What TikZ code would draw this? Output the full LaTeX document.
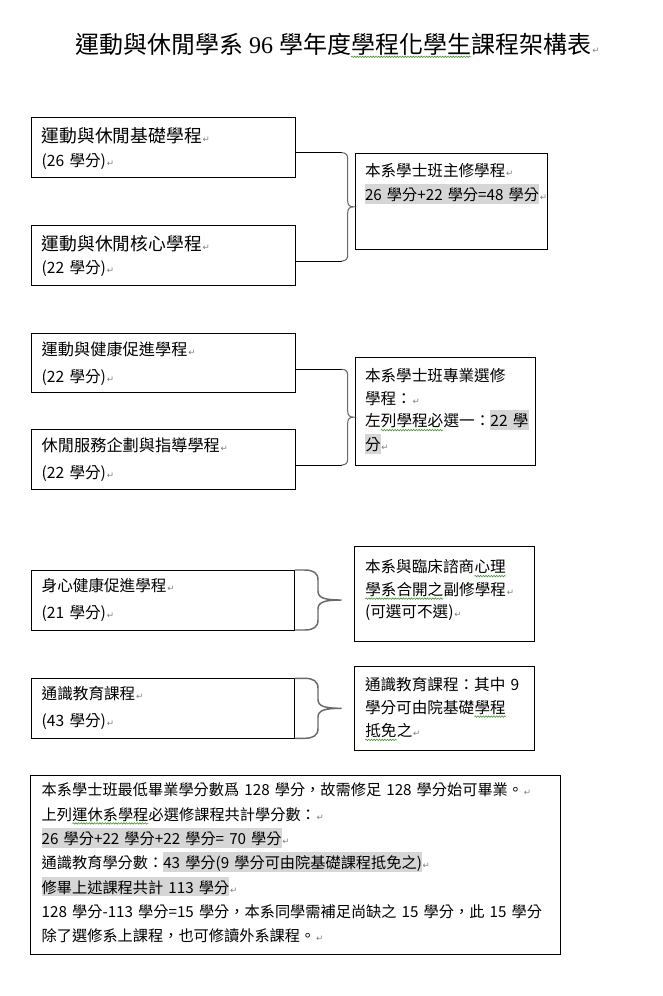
\documentclass[tikz,border=0pt]{standalone}
\usepackage{fontspec}
\setmainfont{Noto Sans CJK TC}[WordSpace=1.5]
\newfontfamily\arrowfont{DejaVu Sans}
\newfontfamily\serifdig{Liberation Serif}
\usetikzlibrary{fit,decorations.pathmorphing}
\definecolor{hlgray}{RGB}{214,214,214}
\definecolor{markgray}{RGB}{128,128,128}
\definecolor{bracegray}{RGB}{105,105,105}
\definecolor{wavegreen}{RGB}{70,150,50}
\newcommand\fntbody{\fontsize{11.7pt}{14pt}\selectfont}
\newcommand\fntsmall{\fontsize{11.4pt}{14pt}\selectfont}
\newcommand\fntbig{\fontsize{13.35pt}{16pt}\selectfont}
\newcommand\fntmid{\fontsize{12.15pt}{15pt}\selectfont}
\newcommand\fnttitle{\fontsize{18pt}{22pt}\selectfont}
\newcommand\parmark{{\kern0.6pt\color{markgray}\arrowfont\fontsize{6.5pt}{6.5pt}\selectfont ↵}}
\newcommand\hlt[1]{{\setlength{\fboxsep}{0pt}\colorbox{hlgray}{\rule[-0.22em]{0pt}{1.3em}#1}}}
\newcommand\wavy[1]{\tikz[baseline=(w.base)]{\node[inner sep=0pt,outer sep=0pt,anchor=base west,draw=none,fill=none] (w) at (0,0) {#1};\draw[wavyline] ([yshift=-2.4pt]w.base west) -- ([yshift=-2.4pt]w.base east);}}
\newcommand\smallbrace[4]{%
 \pgfmathsetmacro\bmid{(#2+#3)/2}%
 \draw[bracel] (#1,#2) .. controls ({#1+4},#2) and ({#1+6},{#2+2}) .. ({#1+6},{#2+6}) -- ({#1+6},{\bmid-6}) .. controls ({#1+6},{\bmid-2}) and ({#4-4},\bmid) .. (#4,\bmid) .. controls ({#4-4},\bmid) and ({#1+6},{\bmid+2}) .. ({#1+6},{\bmid+6}) -- ({#1+6},{#3-6}) .. controls ({#1+6},{#3-2}) and ({#1+4},#3) .. (#1,#3);}
\newcommand\bigbrace[4]{%
 \pgfmathsetmacro\bmid{(#2+#3)/2}%
 \draw[bigbracel] (#1,#2) -- ({#1+10},#2) .. controls ({#1+19},#2) and ({#1+23.5},{#2+3}) .. ({#1+23.5},{#2+10}) -- ({#1+23.5},{\bmid-9}) .. controls ({#1+23.5},{\bmid-2}) and ({#1+30},\bmid) .. (#4,\bmid) .. controls ({#1+30},\bmid) and ({#1+23.5},{\bmid+2}) .. ({#1+23.5},{\bmid+9}) -- ({#1+23.5},{#3-10}) .. controls ({#1+23.5},{#3-3}) and ({#1+19},#3) .. ({#1+10},#3) -- (#1,#3);}

\begin{document}
\begin{tikzpicture}[x=0.75pt, y=-0.75pt,
  box/.style={draw, line width=0.75pt, inner sep=0pt, outer sep=0pt},
  txt/.style={anchor=base west, inner sep=0pt, outer sep=0pt},
  tbody/.style={txt, font=\fntbody},
  tsmall/.style={txt, font=\fntsmall},
  tbig/.style={txt, font=\fntbig},
  tmid/.style={txt, font=\fntmid},
  ttitle/.style={txt, font=\fnttitle},
  conn/.style={draw, line width=0.75pt},
  bracel/.style={draw=bracegray, line width=0.8pt},
  bigbracel/.style={draw=bracegray, line width=1.1pt},
  wavyline/.style={draw=wavegreen, line width=0.45pt, decorate, decoration={snake, amplitude=0.55pt, segment length=2pt}}]
\path[use as bounding box, fill=white] (0,0) rectangle (663,996);

% title
\node[ttitle] (title) at (75,53.6) {運動與休閒學系{\serifdig\ 96\ }學年度\wavy{學程化學生}課程架構表\parmark};

% boxes
\node[box, fit={(31.7,117.3) (295.5,177.3)}] (a1) {};
\node[box, fit={(31.7,225.7) (295.5,285.3)}] (a2) {};
\node[box, fit={(355.7,153.3) (547,249)}] (r1) {};
\node[box, fit={(31.7,333.3) (295.5,392.7)}] (a3) {};
\node[box, fit={(31.7,429.3) (295.5,489)}] (a4) {};
\node[box, fit={(355.7,357.3) (535.7,465.3)}] (r2) {};
\node[box, fit={(31.7,570) (294.5,630)}] (a5) {};
\node[box, fit={(354.3,546) (534.3,641.7)}] (r3) {};
\node[box, fit={(31.7,678.3) (294.5,738.3)}] (a6) {};
\node[box, fit={(354.3,666) (534.3,750.7)}] (r4) {};
\node[box, fit={(30.7,775) (560,954)}] (bot) {};

% texts group 1
\node[tbig] (a1l1) at (41.7,142.8) {運動與休閒基礎學程\parmark};
\node[tbody] (a1l2) at (41.7,166.6) {(26 學分)\parmark};
\node[tbig] (a2l1) at (41.7,250.1) {運動與休閒核心學程\parmark};
\node[tbody] (a2l2) at (41.7,273.2) {(22 學分)\parmark};
\node[tbody] (r1l1) at (365,176.2) {本系學士班主修學程\parmark};
\node[tsmall] (r1l2) at (365,200.9) {\hlt{26 學分+22 學分=48 學分}\parmark};

% texts group 2
\node[tmid] (a3l1) at (41.7,355.7) {運動與健康促進學程\parmark};
\node[tbody] (a3l2) at (41.7,382.4) {(22 學分)\parmark};
\node[tmid] (a4l1) at (41.7,451.7) {休閒服務企劃與指導學程\parmark};
\node[tbody] (a4l2) at (41.7,478.4) {(22 學分)\parmark};
\node[tbody] (r2l1) at (365,381.6) {本系學士班專業選修};
\node[tbody] (r2l2) at (365,404.9) {學程：\parmark};
\node[tbody] (r2l3) at (365,426.9) {左\wavy{列學程必}選一：\hlt{22 學}};
\node[tbody] (r2l4) at (365,450.9) {\hlt{分}\parmark};

% texts group 3
\node[tbody] (a5l1) at (41.7,591.4) {身心健康促進學程\parmark};
\node[tbody] (a5l2) at (41.7,618.4) {(21 學分)\parmark};
\node[tbody] (r3l1) at (365,572.9) {本系與臨床諮商\wavy{心理}};
\node[tbody] (r3l2) at (365,595.4) {\wavy{學系合開之}副修學程\parmark};
\node[tbody] (r3l3) at (365,617.4) {(可選可不選)\parmark};

% texts group 4
\node[tbody] (a6l1) at (41.7,699.7) {通識教育課程\parmark};
\node[tbody] (a6l2) at (41.7,726.7) {(43 學分)\parmark};
\node[tbody] (r4l1) at (365,690.9) {通識教育課程：其中 9};
\node[tbody] (r4l2) at (365,713.4) {學分可由院基礎\wavy{學程}};
\node[tbody] (r4l3) at (365,736.7) {\wavy{抵免}之\parmark};

% bottom box text
\node[tsmall] (b1) at (41.7,795.9) {本系學士班最低畢業學分數爲 128 學分，故需修足 128 學分始可畢業。\parmark};
\node[tsmall] (b2) at (41.7,820.2) {上列\wavy{運休系學程}必選修課程共計學分數：\parmark};
\node[tsmall] (b3) at (41.7,844.5) {\hlt{26 學分+22 學分+22 學分= 70 學分}\parmark};
\node[tsmall] (b4) at (41.7,868.8) {通識教育學分數：\hlt{43 學分(9 學分可由院基礎課程抵免之)}\parmark};
\node[tsmall] (b5) at (41.7,893.1) {\hlt{修畢上述課程共計 113 學分}\parmark};
\node[tsmall] (b6) at (41.7,917.4) {128 學分-113 學分=15 學分，本系同學需補足尚缺之 15 學分，此 15 學分};
\node[tsmall] (b7) at (41.7,941.7) {除了選修系上課程，也可修讀外系課程。\parmark};

% connectors group 1
\coordinate (j1t) at (341.7,152.7);
\coordinate (j1b) at (341.7,261);
\draw[conn] (a1.east |- j1t) -- (j1t);
\draw[conn] (a2.east |- j1b) -- (j1b);
\smallbrace{341.7}{152.7}{261}{353.5}

% connectors group 2
\coordinate (j2t) at (341.7,369.3);
\coordinate (j2b) at (341.7,465);
\draw[conn] (a3.east |- j2t) -- (j2t);
\draw[conn] (a4.east |- j2b) -- (j2b);
\smallbrace{341.7}{369.3}{465}{353.5}

% braces groups 3 and 4
\bigbrace{294.5}{570}{630}{341.7}
\bigbrace{294.5}{678.3}{738.3}{341.7}
\end{tikzpicture}
\end{document}
